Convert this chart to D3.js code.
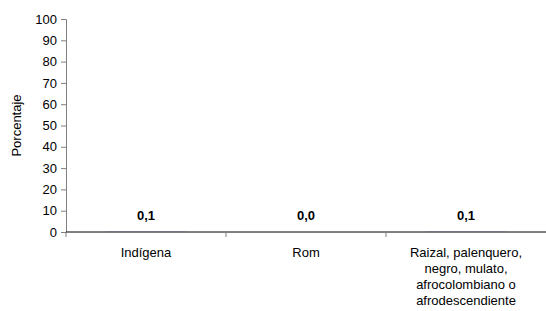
<!DOCTYPE html>
<html>
<head>
<meta charset="utf-8">
<script src="https://cdn.jsdelivr.net/npm/d3@7"></script>
<style>
  body { margin: 0; background: #fff; }
  text { font-family: "Liberation Sans", Arial, sans-serif; }
</style>
</head>
<body>
<div id="chart"></div>
<script>
var categories = [
  ["Indígena"],
  ["Rom"],
  ["Raizal, palenquero,", "negro, mulato,", "afrocolombiano o", "afrodescendiente"]
];
var values = [0.1, 0.0, 0.1];
var valueLabels = ["0,1", "0,0", "0,1"];
var yTicks = [0, 10, 20, 30, 40, 50, 60, 70, 80, 90, 100];

var width = 546;
var height = 311;
var margin = { left: 66, right: 0, top: 19, bottom: 79 };

var svg = d3.select("#chart")
  .append("svg")
  .attr("width", width)
  .attr("height", height);

var x = d3.scaleBand()
  .domain(d3.range(categories.length))
  .range([margin.left, width - margin.right]);

var y = d3.scaleLinear()
  .domain([0, 100])
  .range([height - margin.bottom, margin.top]);

// y axis
var yAxis = svg.append("g")
  .attr("transform", "translate(" + margin.left + ",0)")
  .call(d3.axisLeft(y).tickValues(yTicks).tickSize(5).tickPadding(4));
yAxis.select(".domain").attr("stroke", "#808080");
yAxis.selectAll(".tick line").attr("stroke", "#808080");
yAxis.selectAll(".tick text")
  .attr("font-size", 13)
  .attr("fill", "#000");

// bars (tiny values)
svg.append("g")
  .selectAll("rect")
  .data(values)
  .enter()
  .append("rect")
  .attr("x", function(d, i) { return x(i) + x.bandwidth() * 0.25; })
  .attr("width", x.bandwidth() * 0.5)
  .attr("y", function(d) { return y(d); })
  .attr("height", function(d) { return y(0) - y(d); })
  .attr("fill", "#9999ff");

// x axis
var xAxisG = svg.append("g")
  .attr("transform", "translate(0," + y(0) + ")");
xAxisG.append("line")
  .attr("x1", margin.left)
  .attr("x2", width - margin.right)
  .attr("stroke", "#000");
xAxisG.selectAll(".xtick")
  .data(d3.range(categories.length))
  .enter()
  .append("line")
  .attr("class", "xtick")
  .attr("x1", function(d) { return x(d); })
  .attr("x2", function(d) { return x(d); })
  .attr("y1", 0)
  .attr("y2", 5)
  .attr("stroke", "#808080");

// category labels
var catText = svg.append("g")
  .selectAll("text")
  .data(categories)
  .enter()
  .append("text")
  .attr("text-anchor", "middle")
  .attr("font-size", 13)
  .attr("x", function(d, i) { return x(i) + x.bandwidth() / 2; })
  .attr("y", y(0) + 25);
catText.selectAll("tspan")
  .data(function(d) { return d; })
  .enter()
  .append("tspan")
  .attr("x", function() { return d3.select(this.parentNode).attr("x"); })
  .attr("dy", function(d, i) { return i === 0 ? 0 : 16; })
  .text(function(d) { return d; });

// value labels
svg.append("g")
  .selectAll("text")
  .data(values)
  .enter()
  .append("text")
  .attr("text-anchor", "middle")
  .attr("font-size", 13)
  .attr("font-weight", "bold")
  .attr("x", function(d, i) { return x(i) + x.bandwidth() / 2; })
  .attr("y", function(d) { return y(d) - 12; })
  .text(function(d, i) { return valueLabels[i]; });

// y title
svg.append("text")
  .attr("transform", "translate(21," + (margin.top + (y(0) - margin.top) / 2) + ") rotate(-90)")
  .attr("text-anchor", "middle")
  .attr("font-size", 13)
  .text("Porcentaje");
</script>
</body>
</html>
